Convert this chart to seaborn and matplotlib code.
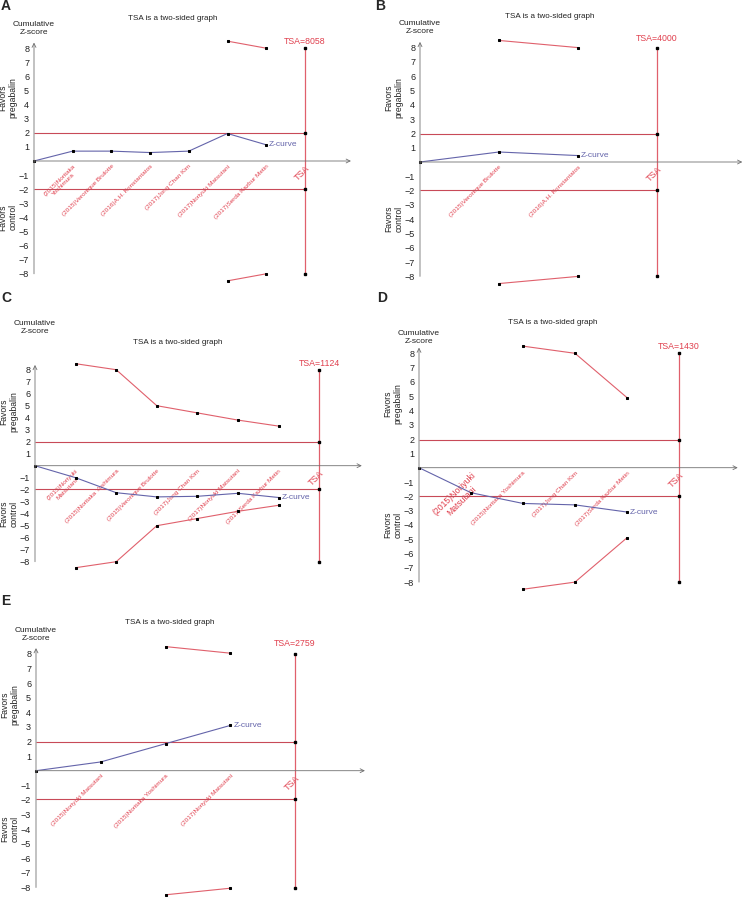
import matplotlib
matplotlib.use("Agg")
import matplotlib.pyplot as plt
import seaborn as sns

sns.set_style("white")
plt.rcParams['font.family'] = ['Liberation Sans', 'DejaVu Sans']

W, H = 746, 901

# --- data ---
a_labels = ["(2015)Noritaka\nYoshimura", "(2015)Veronique Brulotte", "(2016)A.H. Konstantatos",
            "(2017)Jong Chan Kim", "(2017)Noriyuki Matsutani", "(2017)Serda Kazbur Metin"]
a_z = [0, 0.7, 0.7, 0.6, 0.7, 1.95, 1.15]
a_bound_idx = [5, 6]
a_bound = [8.5, 8.0]
a_tsa = 8058

b_labels = ["(2015)Veronique Brulotte", "(2016)A.H. Konstantatos"]
b_z = [0, 0.7, 0.45]
b_bound_idx = [1, 2]
b_bound = [8.5, 8.0]
b_tsa = 4000

c_labels = ["(2015)Noriyuki\nMatsutani", "(2015)Noritaka Yoshimura", "(2015)Veronique Brulotte",
            "(2017)Jong Chan Kim", "(2017)Noriyuki Matsutani", "(2017)Serda Kazbur Metin"]
c_z = [0, -1.0, -2.25, -2.6, -2.55, -2.3, -2.65]
c_bound_idx = [1, 2, 3, 4, 5, 6]
c_bound = [8.5, 8.0, 5.0, 4.4, 3.8, 3.3]
c_tsa = 1124

d_labels = ["(2015)Noriyuki\nMatsutani", "(2015)Noritaka Yoshimura", "(2017)Jong Chan Kim",
            "(2017)Serda Kazbur Metin"]
d_z = [0, -1.75, -2.5, -2.6, -3.1]
d_bound_idx = [2, 3, 4]
d_bound = [8.5, 8.0, 4.9]
d_tsa = 1430

e_labels = ["(2015)Noriyuki Matsutani", "(2015)Noritaka Yoshimura", "(2017)Noriyuki Matsutani"]
e_z = [0, 0.6, 1.85, 3.1]
e_bound_idx = [2, 3]
e_bound = [8.5, 8.05]
e_tsa = 2759

y_ticks = [-8, -7, -6, -5, -4, -3, -2, -1, 1, 2, 3, 4, 5, 6, 7, 8]

# colours
RED_LINE = '#e0606c'
RED_H = '#c84a58'
RED_TXT = '#e0404e'
BLUE = '#6464aa'
GREY = '#707070'
INK = '#222222'

fig = plt.figure(figsize=(W / 100, H / 100), dpi=100)


def draw_panel(letter, labels, z, b_idx, b_up, tsa, lay):
    x0, y0, dx, dy, xend = lay['x0'], lay['y0'], lay['dx'], lay['dy'], lay['xend']
    n = len(labels) + 1  # index of the TSA column
    xl = (-0.15, xend + 0.05)
    yl = (-9.0, 9.0)
    left = x0 + xl[0] * dx
    width = (xl[1] - xl[0]) * dx
    top = y0 - yl[1] * dy
    height = (yl[1] - yl[0]) * dy
    ax = fig.add_axes([left / W, 1 - (top + height) / H, width / W, height / H])
    ax.patch.set_alpha(0)
    ax.set_xlim(xl)
    ax.set_ylim(yl)
    for s in ax.spines.values():
        s.set_visible(False)
    ax.spines['left'].set_position(('data', 0))
    ax.spines['bottom'].set_position(('data', 0))

    # axes with open arrow heads
    ax.annotate('', xy=(xend, 0), xytext=(0, 0),
                arrowprops=dict(arrowstyle='->', color=GREY, lw=0.6, mutation_scale=7,
                                shrinkA=0, shrinkB=0))
    ax.annotate('', xy=(0, 8.4), xytext=(0, -8),
                arrowprops=dict(arrowstyle='->', color=GREY, lw=0.6, mutation_scale=7,
                                shrinkA=0, shrinkB=0))

    ax.set_yticks(y_ticks)
    ax.tick_params(axis='y', direction='out', length=2.5, width=0.6, color=GREY,
                   labelsize=6.5, pad=1, labelcolor=INK)
    ax.set_xticks(list(range(1, n + 1)))
    ax.set_xticklabels(labels + ['TSA'], rotation=45, ha='right', va='top',
                       rotation_mode='anchor', color=RED_TXT, multialignment='center')
    ax.tick_params(axis='x', direction='in', length=3, width=0.6, color=GREY, pad=2)
    for i, t in enumerate(ax.get_xticklabels()):
        t.set_fontsize(lay.get('first_fs', 4.6) if i == 0 else 4.6)
    ax.get_xticklabels()[-1].set_fontsize(6.5)

    # +-1.96 lines
    ax.hlines([1.96, -1.96], 0, n, color=RED_H, lw=0.8, clip_on=False)
    # TSA vertical line
    ax.vlines(n, -8, 8, color=RED_LINE, lw=0.9, clip_on=False)
    ax.plot([n] * 4, [8, 1.96, -1.96, -8], 's', color='k', ms=1.6, clip_on=False)
    ax.text(n, lay['tsa_y'], f'TSA={tsa}', color=RED_TXT, fontsize=6.3,
            ha='center', va='center')

    # monitoring boundaries
    for sign in (1, -1):
        sns.lineplot(x=b_idx, y=[sign * v for v in b_up], ax=ax, color=RED_LINE, lw=0.8,
                     marker='s', markersize=1.8, markerfacecolor='k', markeredgecolor='k',
                     clip_on=False)

    # cumulative Z-curve
    zi = list(range(len(z)))
    sns.lineplot(x=zi, y=z, ax=ax, color=BLUE, lw=0.8, marker='s', markersize=1.8,
                 markerfacecolor='k', markeredgecolor='k', clip_on=False)
    ax.text(zi[-1] + 3 / dx, z[-1], 'Z-curve', color=BLUE,
            fontsize=6, ha='left', va='center')

    ax.set_xlabel('')
    ax.set_ylabel('')

    # side texts
    fx = -26 / dx
    ax.text(fx, 4.5, 'Favors\npregabalin', rotation=90, fontsize=6.2, ha='center',
            va='center', color=INK, clip_on=False)
    ax.text(fx, -4.0, 'Favors\ncontrol', rotation=90, fontsize=6.2, ha='center',
            va='center', color=INK, clip_on=False)
    ax.text(0, lay['cum_y'], 'Cumulative\nZ-score', fontsize=6, ha='center', va='center',
            color=INK, clip_on=False)
    fig.text(lay['title_x'] / W, 1 - lay['title_y'] / H, 'TSA is a two-sided graph',
             fontsize=5.8, ha='center', va='center', color=INK)
    fig.text(lay['lx'] / W, 1 - lay['ly'] / H, letter, fontsize=10, fontweight='bold',
             ha='left', va='center')
    return ax


lay_a = dict(x0=34, y0=161, dx=38.7, dy=14.1, xend=8.19, tsa_y=8.45, cum_y=9.4,
             title_x=173, title_y=18, lx=1, ly=6)
lay_b = dict(x0=420, y0=162, dx=79, dy=14.3, xend=4.08, tsa_y=8.65, cum_y=9.4,
             title_x=550, title_y=17, lx=375, ly=6)
lay_c = dict(x0=35, y0=465.7, dx=40.6, dy=12.0, xend=8.05, tsa_y=8.55, cum_y=11.5,
             title_x=178, title_y=343, lx=1, ly=298)
lay_d = dict(x0=419, y0=467.7, dx=52, dy=14.3, xend=6.13, tsa_y=8.5, cum_y=9.1,
             title_x=553, title_y=322, lx=377, ly=298, first_fs=6.2)
lay_e = dict(x0=36, y0=770.7, dx=64.75, dy=14.6, xend=5.08, tsa_y=8.7, cum_y=9.3,
             title_x=170, title_y=622, lx=1, ly=601)

draw_panel('A', a_labels, a_z, a_bound_idx, a_bound, a_tsa, lay_a)
draw_panel('B', b_labels, b_z, b_bound_idx, b_bound, b_tsa, lay_b)
draw_panel('C', c_labels, c_z, c_bound_idx, c_bound, c_tsa, lay_c)
draw_panel('D', d_labels, d_z, d_bound_idx, d_bound, d_tsa, lay_d)
draw_panel('E', e_labels, e_z, e_bound_idx, e_bound, e_tsa, lay_e)

fig.savefig('out.png', dpi=100)
